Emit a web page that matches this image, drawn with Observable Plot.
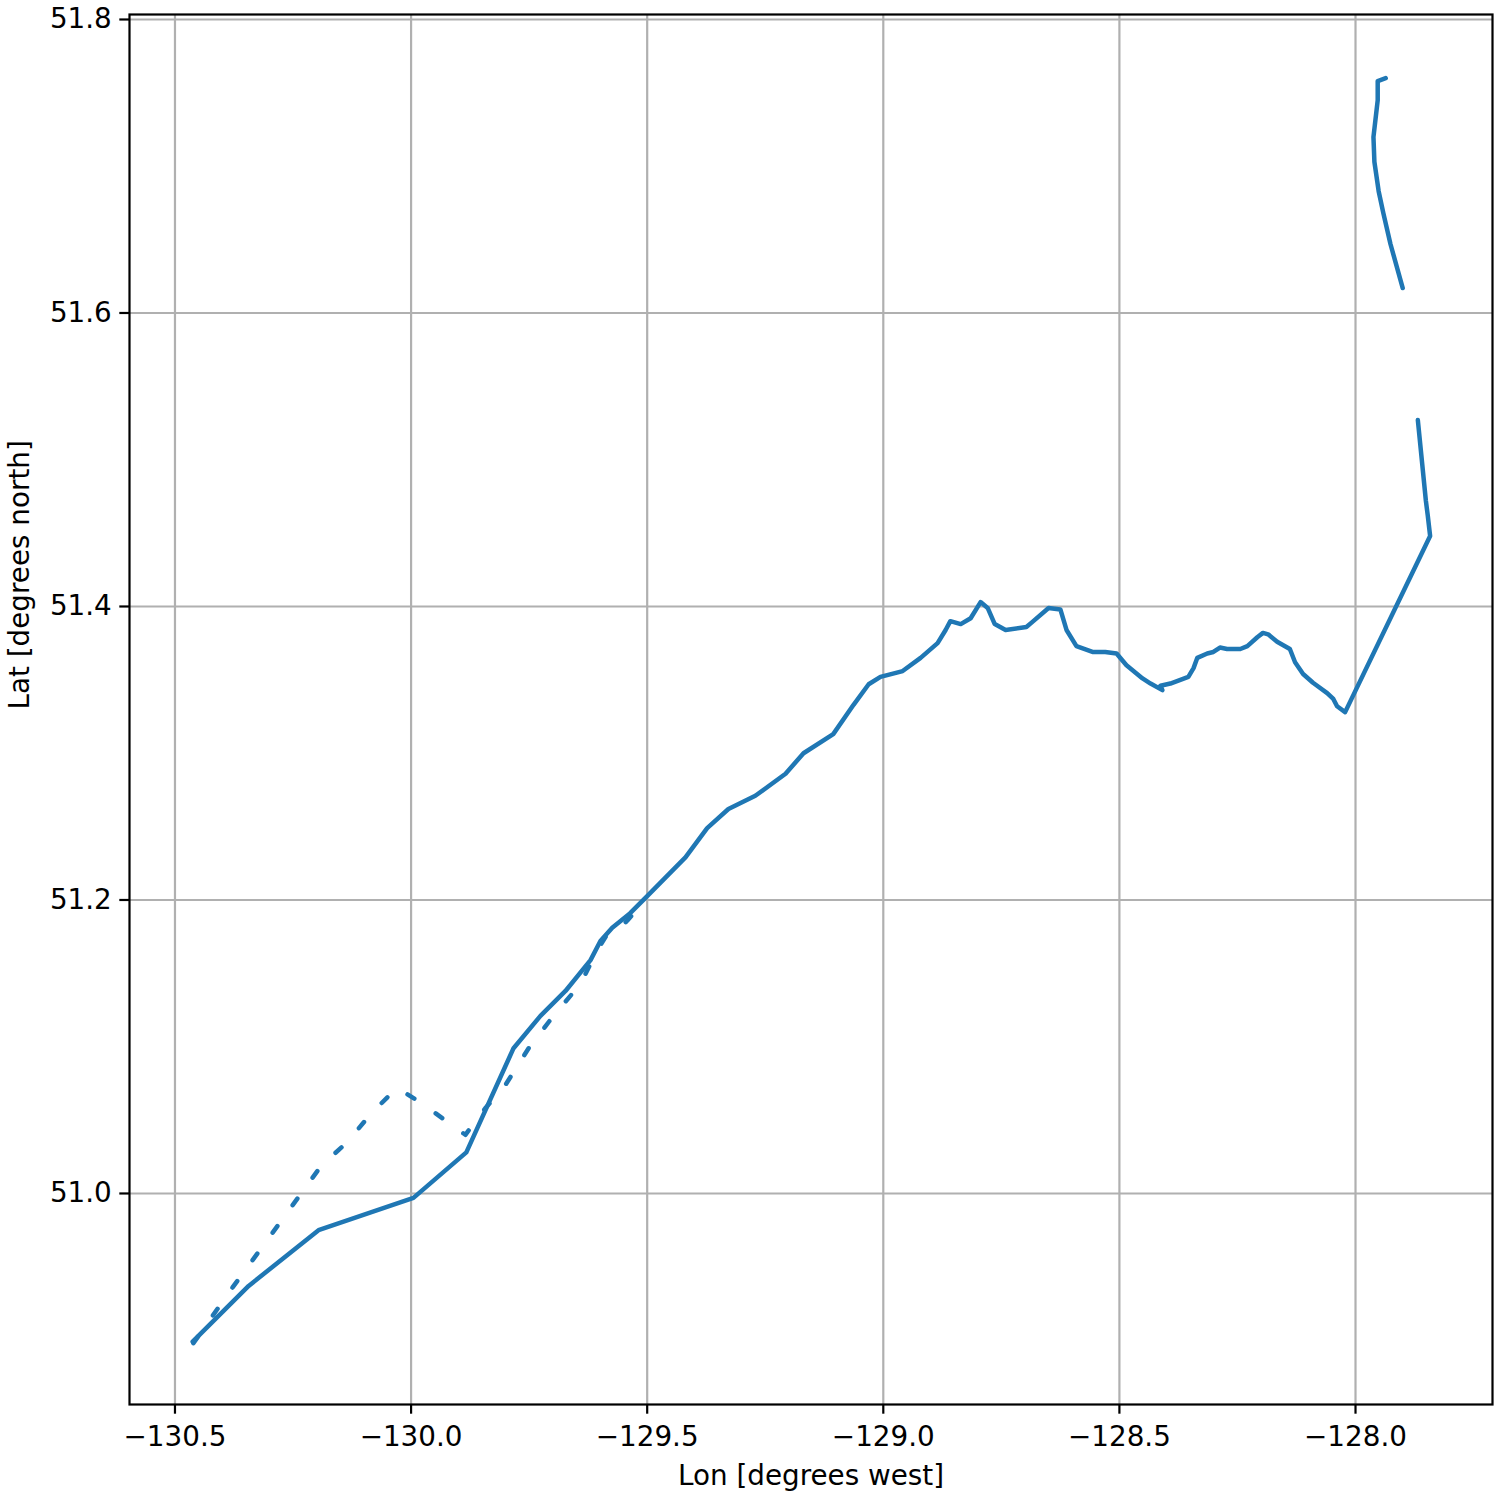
<!DOCTYPE html>
<html>
<head>
<meta charset="utf-8">
<script src="https://cdn.jsdelivr.net/npm/d3@7"></script>
<script src="https://cdn.jsdelivr.net/npm/@observablehq/plot@0.6"></script>
<style>
  html, body { margin: 0; padding: 0; background: #fff; }
  svg { display: block; }
</style>
</head>
<body>
<div id="chart"></div>
<script>
// Main (continuous) track
const mainLon = [-130.4625, -130.344, -130.196, -129.995, -129.883, -129.783, -129.726, -129.673, -129.620, -129.599, -129.574, -129.536, -129.499,
  -129.419, -129.373, -129.328, -129.271, -129.207, -129.169, -129.106, -129.063, -129.031, -129.006, -128.959, -128.921, -128.885,
  -128.868, -128.858, -128.836, -128.815, -128.794, -128.779, -128.764, -128.741, -128.697, -128.686, -128.650, -128.625, -128.612,
  -128.591, -128.557, -128.530, -128.506, -128.485, -128.451, -128.434, -128.409, -128.413, -128.392, -128.354, -128.343, -128.335,
  -128.314, -128.301, -128.287, -128.272, -128.244, -128.229, -128.208, -128.196, -128.185, -128.166, -128.139, -128.128, -128.111,
  -128.090, -128.060, -128.047, -128.039, -128.022, -127.842, -127.847, -127.851, -127.868];
const mainLat = [50.899, 50.937, 50.975, 50.997, 51.028, 51.099, 51.121, 51.138, 51.159, 51.172, 51.181, 51.191, 51.203,
  51.229, 51.249, 51.262, 51.271, 51.286, 51.300, 51.313, 51.333, 51.347, 51.352, 51.356, 51.365, 51.375,
  51.384, 51.390, 51.388, 51.392, 51.403, 51.399, 51.388, 51.384, 51.386, 51.389, 51.399, 51.398, 51.384,
  51.373, 51.369, 51.369, 51.368, 51.360, 51.351, 51.3475, 51.343, 51.346, 51.3475, 51.352, 51.358, 51.365,
  51.368, 51.369, 51.372, 51.371, 51.371, 51.373, 51.379, 51.382, 51.381, 51.376, 51.371, 51.362, 51.354,
  51.348, 51.341, 51.337, 51.332, 51.328, 51.448, 51.462, 51.472, 51.527];

// Northern segment (after the gap)
const northLon = [-127.900, -127.926, -127.941, -127.951, -127.960, -127.962, -127.953, -127.953, -127.936];
const northLat = [51.617, 51.647, 51.668, 51.683, 51.703, 51.720, 51.745, 51.758, 51.760];

// Sparse (dashed) track
const dashLon = [-130.461, -130.378, -130.287, -130.190, -130.135, -130.086, -130.030, -129.980, -129.885, -129.843, -129.804,
  -129.751, -129.701, -129.641, -129.605, -129.584, -129.563, -129.542, -129.499];
const dashLat = [50.898, 50.936, 50.976, 51.019, 51.035, 51.054, 51.072, 51.062, 51.040, 51.058, 51.072,
  51.099, 51.120, 51.143, 51.166, 51.177, 51.179, 51.186, 51.202];

const xTicks = [-130.5, -130.0, -129.5, -129.0, -128.5, -128.0];
const yTicks = [51.0, 51.2, 51.4, 51.6, 51.8];

const toRows = (lon, lat) => lon.map((v, i) => ({lon: v, lat: lat[i]}));
const mainRows = toRows(mainLon, mainLat);
const northRows = toRows(northLon, northLat);
const dashRows = toRows(dashLon, dashLat);

const fmt = (d, n) => (d < 0 ? "\u2212" : "") + Math.abs(d).toFixed(n);
const blue = "#1f77b4";
const grid = "#b0b0b0";
const FS = 27.8;
const LW = 4.5;

const chart = Plot.plot({
  width: 1500,
  height: 1500,
  marginLeft: 129,
  marginRight: 8,
  marginTop: 14,
  marginBottom: 96,
  style: {fontFamily: "DejaVu Sans", fontSize: FS + "px", color: "black", background: "white"},
  x: {domain: [-130.5963, -127.7099]},
  y: {domain: [50.8562, 51.8034]},
  marks: [
    Plot.gridX(xTicks, {stroke: grid, strokeOpacity: 1, strokeWidth: 2.2}),
    Plot.gridY(yTicks, {stroke: grid, strokeOpacity: 1, strokeWidth: 2.2}),
    Plot.line(dashRows, {x: "lon", y: "lat", stroke: blue, strokeWidth: LW, strokeDasharray: "8,26", strokeLinecap: "round"}),
    Plot.line(mainRows, {x: "lon", y: "lat", stroke: blue, strokeWidth: LW, strokeLinejoin: "round", strokeLinecap: "round"}),
    Plot.line(northRows, {x: "lon", y: "lat", stroke: blue, strokeWidth: LW, strokeLinejoin: "round", strokeLinecap: "round"}),
    Plot.frame({stroke: "black", strokeWidth: 2.2}),
    Plot.axisX(xTicks, {tickFormat: d => fmt(d, 1), tickSize: 9.7, tickPadding: 12, strokeWidth: 2.2, fontSize: FS, label: null}),
    Plot.axisY(yTicks, {tickFormat: d => fmt(d, 1), tickSize: 9.7, tickPadding: 8, strokeWidth: 2.2, fontSize: FS, label: null}),
    Plot.text(["Lon [degrees west]"], {frameAnchor: "bottom", dy: 72, fontSize: FS, fill: "black", lineAnchor: "middle"}),
    Plot.text(["Lat [degrees north]"], {frameAnchor: "left", dx: -109, rotate: -90, fontSize: FS, fill: "black", lineAnchor: "middle"})
  ]
});
document.getElementById("chart").appendChild(chart);
</script>
</body>
</html>
